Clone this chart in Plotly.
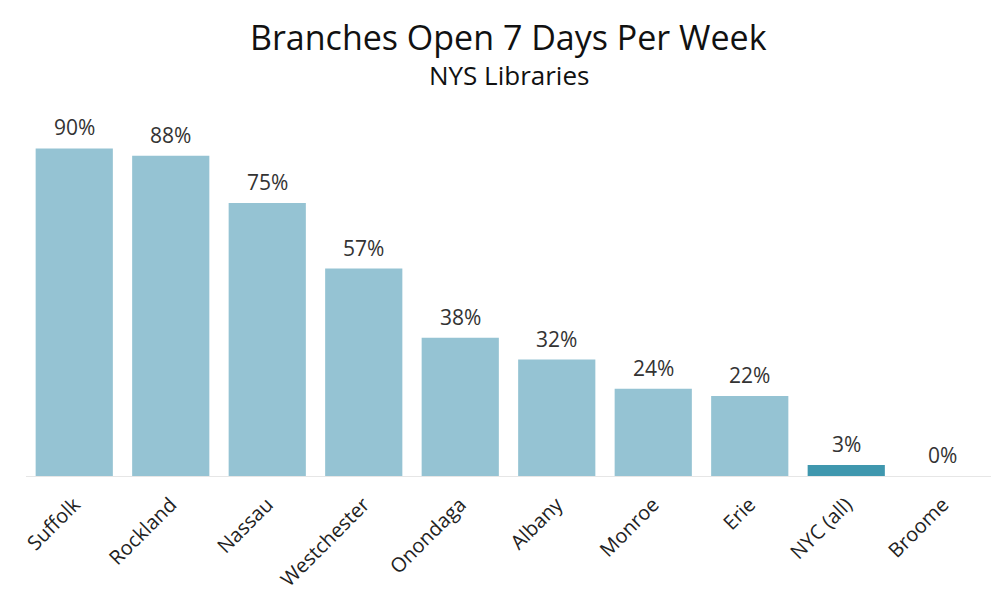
import plotly.graph_objects as go

counties = ["Suffolk", "Rockland", "Nassau", "Westchester", "Onondaga",
            "Albany", "Monroe", "Erie", "NYC (all)", "Broome"]
pct_open = [0.90, 0.88, 0.75, 0.57, 0.38, 0.32, 0.24, 0.22, 0.03, 0.0]
highlight = "NYC (all)"

FONT = "Open Sans"
colors = ["#3F97AE" if c == highlight else "#95C3D3" for c in counties]

fig = go.Figure(go.Bar(
    x=counties, y=pct_open,
    marker=dict(color=colors, line=dict(width=0)),
    cliponaxis=False,
    hoverinfo="x+y",
))

annotations = [
    dict(x=c, y=v, xref="x", yref="y", text=f"{round(v*100)}%", showarrow=False,
         yanchor="bottom", yshift=5, font=dict(size=21, color="#333333", family=FONT))
    for c, v in zip(counties, pct_open)
]
annotations += [
    dict(text="Branches Open 7 Days Per Week", x=0.5, y=1, xref="paper", yref="paper",
         yshift=75, showarrow=False, font=dict(size=34, color="#111111", family=FONT),
         xanchor="center", yanchor="middle"),
    dict(text="NYS Libraries", x=0.5, y=1, xref="paper", yref="paper",
         yshift=37, showarrow=False, font=dict(size=26, color="#111111", family=FONT),
         xanchor="center", yanchor="middle"),
]

fig.update_layout(
    width=1000, height=600,
    plot_bgcolor="white", paper_bgcolor="white",
    margin=dict(l=18, r=17, t=104, b=132),
    bargap=0.2,
    showlegend=False,
    font=dict(family=FONT, color="#222222"),
    annotations=annotations,
)
fig.update_xaxes(tickangle=-45, tickfont=dict(size=20, color="#222222", family=FONT),
                 showline=True, linecolor="#e6e6e6", linewidth=1, ticks="outside",
                 ticklen=8, tickcolor="rgba(0,0,0,0)", showgrid=False, automargin=False)
fig.update_yaxes(range=[0, 1.0], visible=False, showgrid=False)

fig.write_html("out.html")
